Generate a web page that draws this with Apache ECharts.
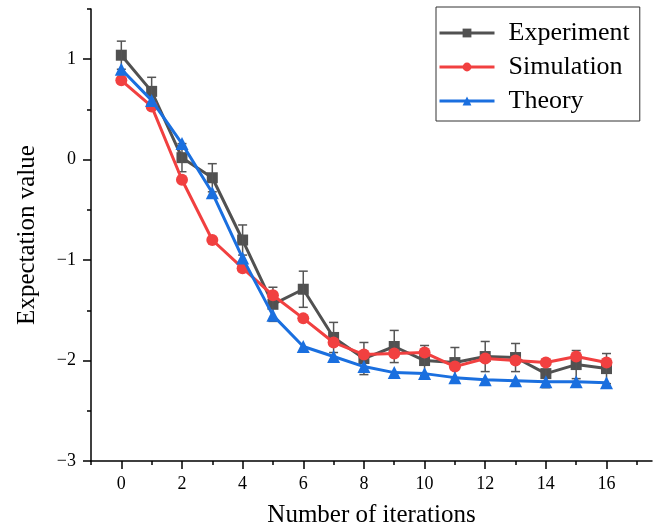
<!DOCTYPE html>
<html>
<head>
<meta charset="utf-8">
<script src="https://cdn.jsdelivr.net/npm/echarts@6/dist/echarts.min.js"></script>
<style>
html,body{margin:0;padding:0;background:#fff;}
#c{width:672px;height:529px;}
</style>
</head>
<body>
<div id="c"></div>
<script>
var iterations = [0,1,2,3,4,5,6,7,8,9,10,11,12,13,14,15,16];
var experiment = [1.04,0.68,0.02,-0.18,-0.80,-1.44,-1.29,-1.77,-1.98,-1.86,-2.00,-2.02,-1.96,-1.97,-2.13,-2.04,-2.08];
var experimentErr = [0.14,0.14,0.14,0.14,0.15,0.17,0.18,0.15,0.16,0.16,0.15,0.15,0.15,0.14,0.14,0.14,0.15];
var simulation = [0.79,0.53,-0.20,-0.80,-1.08,-1.35,-1.58,-1.82,-1.94,-1.93,-1.92,-2.06,-1.98,-2.00,-2.02,-1.96,-2.02];
var theory = [0.90,0.59,0.16,-0.33,-0.98,-1.55,-1.86,-1.96,-2.06,-2.12,-2.13,-2.17,-2.19,-2.20,-2.21,-2.21,-2.22];
var xMajorTicks = [0,2,4,6,8,10,12,14,16];
var xMinorTicks = [-1,1,3,5,7,9,11,13,15,17];
var yMajorTicks = [-3,-2,-1,0,1];
var yMinorTicks = [-2.5,-1.5,-0.5,0.5,1.5];

var FONT = 'Liberation Serif';
var C_EXP = '#515151', C_SIM = '#F14040', C_TH = '#1A6FDF';

function pairs(arr){ return iterations.map(function(x,i){ return [x, arr[i]]; }); }
var errData = iterations.map(function(x,i){ return [x, experiment[i]-experimentErr[i], experiment[i]+experimentErr[i]]; });

var chart = echarts.init(document.getElementById('c'));
var common = { min:-1, max:17.5, type:'value' };
chart.setOption({
  backgroundColor:'#fff',
  animation:false,
  grid:{left:91, right:20, top:9, bottom:68, containLabel:false, outerBoundsMode:'none'},
  legend:{
    orient:'vertical', left:436, top:7,
    padding:[13,10,7,2], itemGap:8,
    itemWidth:55, itemHeight:11,
    borderColor:'#333', borderWidth:1,
    lineStyle:{width:3},
    textStyle:{fontFamily:FONT, fontSize:26, color:'#000', padding:[0,0,0,9]},
    data:['Experiment','Simulation','Theory']
  },
  xAxis:[
    Object.assign({}, common, {
      name:'Number of iterations', nameLocation:'middle', nameGap:42,
      nameTextStyle:{fontFamily:FONT, fontSize:25, color:'#000'},
      axisLine:{show:true, onZero:false, lineStyle:{color:'#000', width:1.5}},
      axisTick:{show:true, customValues:xMajorTicks, length:8, inside:false, lineStyle:{color:'#000', width:1.5}},
      axisLabel:{show:true, customValues:xMajorTicks, margin:14, fontFamily:FONT, fontSize:18, color:'#000'},
      splitLine:{show:false}
    }),
    Object.assign({}, common, {
      position:'bottom',
      axisLine:{show:false, onZero:false},
      axisTick:{show:true, customValues:xMinorTicks, length:4, lineStyle:{color:'#000', width:1.5}},
      axisLabel:{show:false},
      splitLine:{show:false}
    })
  ],
  yAxis:[
    {
      type:'value', min:-3, max:1.5,
      name:'Expectation value', nameLocation:'middle', nameGap:51,
      nameTextStyle:{fontFamily:FONT, fontSize:25, color:'#000'},
      axisLine:{show:true, onZero:false, lineStyle:{color:'#000', width:1.5}},
      axisTick:{show:true, customValues:yMajorTicks, length:8, lineStyle:{color:'#000', width:1.5}},
      axisLabel:{show:true, customValues:yMajorTicks, margin:15, fontFamily:FONT, fontSize:18, color:'#000',
        formatter:function(v){ return String(v).replace('-', '\u2212'); }},
      splitLine:{show:false}
    },
    {
      type:'value', min:-3, max:1.5, position:'left',
      axisLine:{show:false, onZero:false},
      axisTick:{show:true, customValues:yMinorTicks, length:4, lineStyle:{color:'#000', width:1.5}},
      axisLabel:{show:false},
      splitLine:{show:false}
    }
  ],
  series:[
    {
      name:'Experiment', type:'line', data:pairs(experiment),
      symbol:'rect', symbolSize:11, color:C_EXP,
      lineStyle:{width:3, color:C_EXP}, itemStyle:{color:C_EXP}, z:2
    },
    {
      name:'ExpErr', type:'custom', data:errData, z:3,
      encode:{x:0, y:[1,2]},
      renderItem:function(params, api){
        var x = api.value(0);
        var lo = api.coord([x, api.value(1)]);
        var hi = api.coord([x, api.value(2)]);
        var w = 4.5;
        var st = {stroke:'#555', lineWidth:1.5, fill:null};
        return {type:'group', children:[
          {type:'line', shape:{x1:lo[0], y1:lo[1], x2:hi[0], y2:hi[1]}, style:st},
          {type:'line', shape:{x1:lo[0]-w, y1:lo[1], x2:lo[0]+w, y2:lo[1]}, style:st},
          {type:'line', shape:{x1:hi[0]-w, y1:hi[1], x2:hi[0]+w, y2:hi[1]}, style:st}
        ]};
      }
    },
    {
      name:'Simulation', type:'line', data:pairs(simulation),
      symbol:'circle', symbolSize:12, color:C_SIM,
      lineStyle:{width:3, color:C_SIM}, itemStyle:{color:C_SIM}, z:4
    },
    {
      name:'Theory', type:'line', data:pairs(theory),
      symbol:'triangle', symbolSize:13, color:C_TH,
      lineStyle:{width:3, color:C_TH}, itemStyle:{color:C_TH}, z:5
    }
  ]
});
</script>
</body>
</html>
